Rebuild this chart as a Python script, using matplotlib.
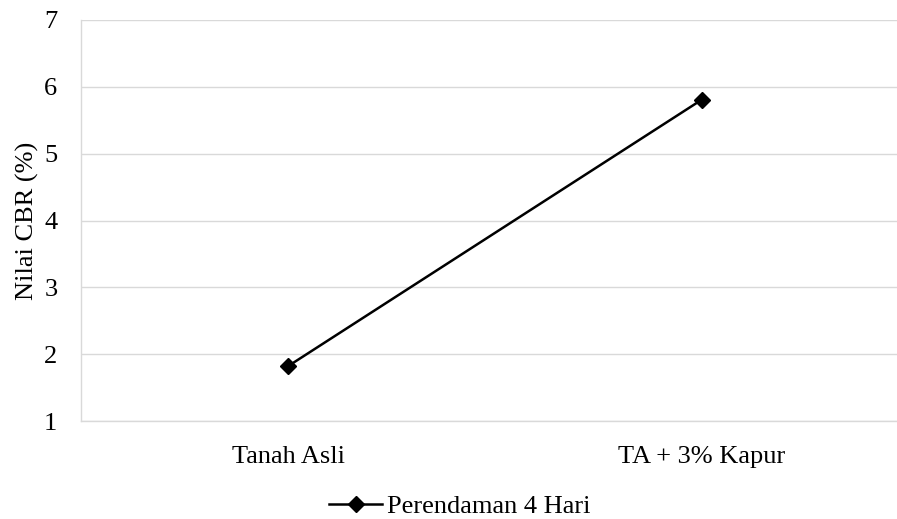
import matplotlib.pyplot as plt

# CBR results
categories = ["Tanah Asli", "TA + 3% Kapur"]
cbr_values = [1.82, 5.81]
series_name = "Perendaman 4 Hari"
y_ticks = [1, 2, 3, 4, 5, 6, 7]

plt.rcParams["font.family"] = ["Liberation Serif", "DejaVu Serif"]

W, H = 897, 519
fig = plt.figure(figsize=(W / 100, H / 100), dpi=100)
ax = fig.add_axes([81 / W, 1 - 421 / H, (W - 81) / W, (421 - 20) / H])

x = list(range(len(categories)))
ax.plot(x, cbr_values, color="black", linewidth=1.8, marker="D",
        markersize=8.5, label=series_name, zorder=3)

ax.set_xlim(-0.5, 1.471)
ax.set_ylim(1, 7)
ax.set_yticks(y_ticks)
ax.set_xticks(x)
ax.set_xticklabels(categories)
ax.grid(axis="y", color="#d9d9d9", linewidth=1)
ax.set_axisbelow(True)
ax.tick_params(length=0, labelsize=19, colors="black")
ax.tick_params(axis="x", pad=18)
ax.tick_params(axis="y", pad=17)

for side in ["top", "right"]:
    ax.spines[side].set_visible(False)
for side in ["left", "bottom"]:
    ax.spines[side].set_color("#d9d9d9")
    ax.spines[side].set_linewidth(1)

ax.set_ylabel("Nilai CBR (%)", fontsize=19, labelpad=4)

fig.legend(loc="center", bbox_to_anchor=(460 / W, 1 - 506 / H), frameon=False,
           fontsize=19, handlelength=2.0, handletextpad=0.2)

fig.savefig("out.png", dpi=100)
